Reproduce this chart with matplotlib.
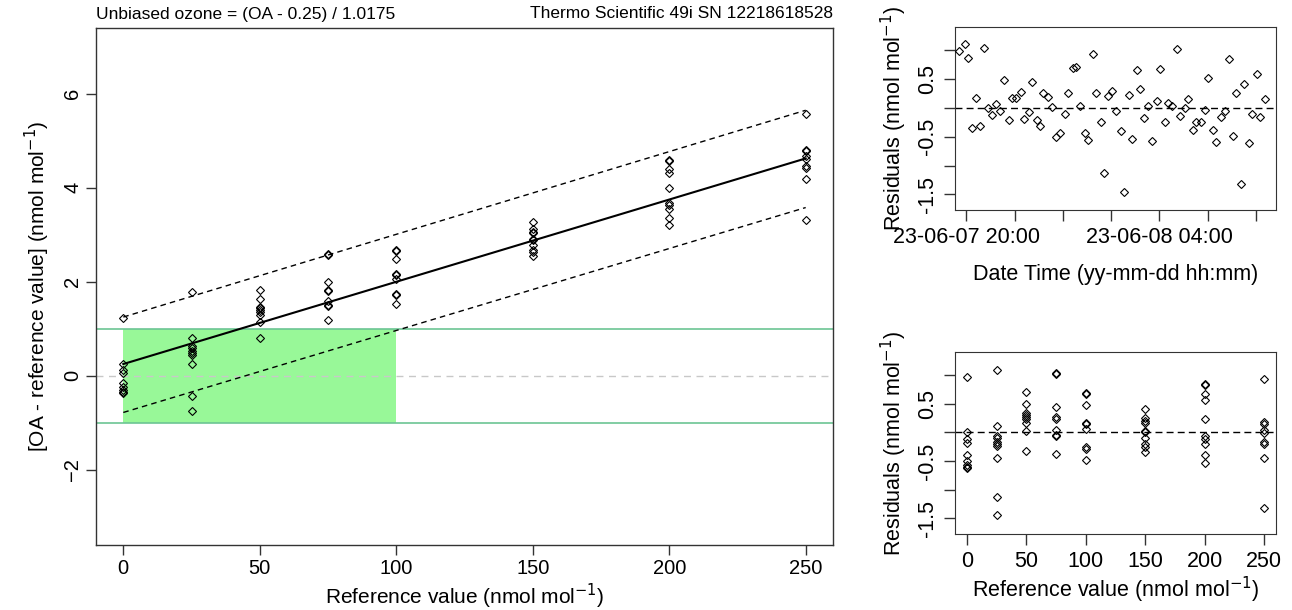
import matplotlib
matplotlib.use("Agg")
import matplotlib.pyplot as plt
from matplotlib.patches import Rectangle
from datetime import datetime, timedelta

plt.rcParams['font.family'] = ['Liberation Sans', 'DejaVu Sans']

# reference levels and OA - reference values (main panel)
ref_levels = [0, 25, 50, 75, 100, 150, 200, 250]
diff_vals = {
    0: [1.22, 0.25, 0.13, 0.06, -0.15, -0.24, -0.31, -0.35, -0.37],
    25: [1.78, 0.80, 0.63, 0.59, 0.53, 0.49, 0.45, 0.25, -0.44, -0.75],
    50: [1.83, 1.63, 1.47, 1.44, 1.40, 1.36, 1.30, 1.15, 0.80],
    75: [2.59, 2.58, 2.00, 1.83, 1.80, 1.60, 1.51, 1.49, 1.18],
    100: [2.68, 2.66, 2.48, 2.17, 2.15, 2.06, 1.75, 1.71, 1.52],
    150: [3.28, 3.13, 3.07, 3.04, 2.91, 2.88, 2.79, 2.68, 2.63, 2.54],
    200: [4.60, 4.57, 4.41, 4.32, 3.99, 3.68, 3.64, 3.54, 3.36, 3.21],
    250: [5.56, 4.81, 4.78, 4.68, 4.62, 4.47, 4.43, 4.19, 3.32],
}

# residuals vs reference value (bottom right)
resid_by_ref = {
    0: [0.97, 0.0, -0.12, -0.19, -0.40, -0.49, -0.56, -0.60, -0.62],
    25: [1.09, 0.11, -0.06, -0.10, -0.16, -0.20, -0.24, -0.44, -1.13, -1.44],
    50: [0.70, 0.50, 0.34, 0.31, 0.27, 0.23, 0.17, 0.02, -0.33],
    75: [1.03, 1.02, 0.44, 0.27, 0.24, 0.04, -0.05, -0.07, -0.38],
    100: [0.68, 0.66, 0.48, 0.17, 0.15, 0.06, -0.25, -0.29, -0.48],
    150: [0.40, 0.25, 0.19, 0.16, 0.03, 0.0, -0.09, -0.20, -0.25, -0.34],
    200: [0.85, 0.82, 0.66, 0.57, 0.24, -0.07, -0.11, -0.21, -0.39, -0.54],
    250: [0.93, 0.18, 0.15, 0.05, -0.01, -0.16, -0.20, -0.44, -1.31],
}

# fitted line and prediction band (at reference 0 and 250)
fit_x = [0, 250]
fit_y = [0.25, 4.625]
upper_y = [1.25, 5.65]
lower_y = [-0.78, 3.58]

# residual time series: minutes after 2023-06-07 20:00
ts_minutes = [-17, -4, 4, 15, 25, 34, 45, 53, 65, 74, 85, 94, 106, 113, 123, 135,
              143, 155, 163, 175, 184, 192, 204, 213, 224, 233, 245, 253, 265, 274,
              282, 294, 302, 314, 323, 335, 343, 352, 362,
              372, 384, 391, 404, 413, 425, 433, 441, 453, 462, 474, 482, 494, 502,
              511, 523, 532, 543, 552, 563, 572, 584, 593, 601, 613, 621, 633, 642,
              654, 662, 670, 682, 691, 703, 711, 723, 731, 743]
ts_resid = [0.98, 1.10, 0.86, -0.35, 0.17, -0.32, 1.03, 0.0, -0.13, 0.06, -0.05,
            0.49, -0.21, 0.17, 0.17, 0.27, -0.19, -0.07, 0.45, -0.21, -0.31, 0.25,
            0.19, 0.01, -0.51, -0.44, -0.10, 0.25, 0.69, 0.71, 0.03, -0.44, -0.55,
            0.94, 0.25, -0.25, -1.13, 0.20, 0.30,
            -0.06, -0.40, -1.45, 0.23, -0.54, 0.65, 0.33, -0.18, 0.04, -0.58, 0.11,
            0.67, -0.24, 0.08, 0.03, 1.02, -0.14, 0.0, 0.15, -0.38, -0.24, -0.24,
            -0.03, 0.51, -0.38, -0.60, -0.16, -0.06, 0.84, -0.48, 0.25, -1.32, 0.41,
            -0.61, -0.10, 0.58, -0.16, 0.15]

t0 = datetime(2023, 6, 7, 20, 0)
ts_times = [t0 + timedelta(minutes=m) for m in ts_minutes]

W, H = 1292, 610
fig = plt.figure(figsize=(W / 100, H / 100), dpi=100)

def px_axes(left, top, right, bottom):
    return fig.add_axes([left / W, 1 - bottom / H, (right - left) / W, (bottom - top) / H])

mk = dict(marker='D', linestyle='none', markersize=4.4, markerfacecolor='none',
          markeredgecolor='black', markeredgewidth=0.8)

# ---- main panel
ax = px_axes(96, 28, 833, 545)
ax.add_patch(Rectangle((0, -1), 100, 2, facecolor='#98f898', edgecolor='none', zorder=0))
ax.axhline(1, color='#6cc594', lw=1.2, zorder=1)
ax.axhline(-1, color='#6cc594', lw=1.2, zorder=1)
ax.axhline(0, color='#c8c8c8', lw=1, ls=(0, (5, 4)), zorder=1)
for x in ref_levels:
    ax.plot([x] * len(diff_vals[x]), diff_vals[x], **mk, zorder=3)
ax.plot(fit_x, fit_y, color='black', lw=1.5, zorder=2)
ax.plot(fit_x, upper_y, color='black', lw=1, ls=(0, (4, 3)), zorder=2)
ax.plot(fit_x, lower_y, color='black', lw=1, ls=(0, (4, 3)), zorder=2)
ax.set_xlim(-10, 260)
ax.set_ylim(-3.6, 7.4)
ax.set_xticks([0, 50, 100, 150, 200, 250])
ax.set_yticks([-2, 0, 2, 4, 6])
ax.tick_params(labelsize=14.5, length=7, width=1, pad=3, color='#333333')
for lab in ax.get_yticklabels():
    lab.set_rotation(90)
    lab.set_va('center')
ax.set_xlabel('Reference value (nmol mol$^{-1}$)', fontsize=15, labelpad=3)
ax.set_ylabel('[OA - reference value] (nmol mol$^{-1}$)', fontsize=15, labelpad=8)
for s in ax.spines.values():
    s.set_linewidth(1)
    s.set_color('#333333')
fig.text(96 / W, 1 - 14 / H, 'Unbiased ozone = (OA - 0.25) / 1.0175',
         family=['Liberation Sans Narrow', 'Liberation Sans'], fontsize=12.5,
         ha='left', va='center')
fig.text(833 / W, 1 - 14 / H, 'Thermo Scientific 49i SN 12218618528',
         family=['Liberation Sans Narrow', 'Liberation Sans'], fontsize=12.5,
         ha='right', va='center')

res_ticks = [-1.5, -1.0, -0.5, 0, 0.5, 1.0]
res_labels = ['-1.5', '', '-0.5', '', '0.5', '']

def style_resid(a):
    a.axhline(0, color='black', lw=1, ls=(0, (5, 3)), zorder=1)
    a.set_ylim(-1.77, 1.40)
    a.set_yticks(res_ticks)
    a.set_yticklabels(res_labels)
    a.tick_params(labelsize=15.5, length=8, width=1, pad=4, color='#333333')
    for lab in a.get_yticklabels():
        lab.set_rotation(90)
        lab.set_va('center')
    a.set_ylabel('Residuals (nmol mol$^{-1}$)', fontsize=15.5, labelpad=6)
    for s in a.spines.values():
        s.set_color('#333333')

# ---- residuals vs time
ax2 = px_axes(955, 27, 1276, 210)
ax2.plot(ts_times, ts_resid, **mk, zorder=3)
style_resid(ax2)
tick_times = [t0 + timedelta(hours=h) for h in range(0, 13, 2)]
ax2.set_xticks(tick_times)
ax2.set_xticklabels(['23-06-07 20:00', '', '', '', '23-06-08 04:00', '', ''])
ax2.set_xlim(t0 - timedelta(minutes=28), t0 + timedelta(minutes=770))
ax2.set_xlabel('Date Time (yy-mm-dd hh:mm)', fontsize=15.5, labelpad=12)

# ---- residuals vs reference
ax3 = px_axes(955, 352, 1276, 534)
for x in ref_levels:
    ax3.plot([x] * len(resid_by_ref[x]), resid_by_ref[x], **mk, zorder=3)
style_resid(ax3)
ax3.set_xlim(-10, 260)
ax3.set_xticks([0, 50, 100, 150, 200, 250])
ax3.set_xlabel('Reference value (nmol mol$^{-1}$)', fontsize=15.5, labelpad=2)

fig.savefig('out.png', dpi=100)
